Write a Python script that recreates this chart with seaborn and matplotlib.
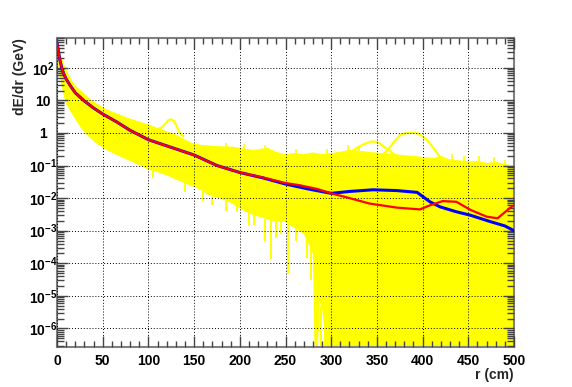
import numpy as np
import pandas as pd
import matplotlib
matplotlib.use("Agg")
import matplotlib.pyplot as plt
import seaborn as sns
from matplotlib.ticker import FixedLocator, FuncFormatter, NullFormatter, MultipleLocator

# ---------------- data ----------------
FLOOR = 1e-9  # empty bins (drawn below the log axis)

# mean profile (blue)
r_blue = [0, 1, 3, 6, 10, 15, 20, 30, 40, 50, 65, 80, 100, 125, 150, 175, 200, 225,
          250, 275, 300, 320, 346, 372, 394, 408, 419, 437, 452, 474, 490, 500]
e_blue = [570, 400, 180, 80, 45, 27, 17, 9.5, 5.8, 3.8, 2.2, 1.2, 0.62, 0.36, 0.21, 0.10,
          0.061, 0.042, 0.027, 0.019, 0.014, 0.016, 0.018, 0.017, 0.015, 0.0077, 0.0054,
          0.0038, 0.003, 0.0019, 0.0014, 0.001]

# second profile (red)
r_red = [0, 1, 3, 6, 10, 15, 20, 30, 40, 50, 65, 80, 100, 125, 150, 175, 200, 225,
         250, 265, 285, 300, 320, 342, 372, 397, 408, 422, 437, 452, 470, 482, 496, 500]
e_red = [570, 400, 180, 80, 45, 27, 17, 9.5, 5.8, 3.8, 2.2, 1.2, 0.62, 0.36, 0.21, 0.10,
         0.061, 0.043, 0.029, 0.025, 0.019, 0.014, 0.010, 0.0068, 0.0051, 0.0045, 0.006,
         0.0081, 0.0077, 0.0044, 0.0027, 0.0024, 0.0051, 0.006]

# envelope of the individual showers (yellow)
r_env = [0, 2, 5, 9, 15, 20, 27, 34, 42, 52, 60, 71, 80, 91, 100, 113, 124, 135, 146,
         156, 164, 178, 193, 205, 215, 225, 236, 245, 252, 260, 265, 270, 275, 280, 283,
         287, 292, 297, 301, 303, 305, 307, 309, 311, 313, 315, 317, 319, 321, 500]
e_low = [300, 100, 30, 9, 4.5, 2.7, 1.3, 0.8, 0.5, 0.33, 0.25, 0.18, 0.14, 0.1, 0.075,
         0.06, 0.045, 0.033, 0.024, 0.02, 0.013, 0.01, 0.0067, 0.004, 0.003, 0.0025,
         0.002, 0.002, 0.0018, 0.0012, 0.001, 0.0008, 0.0005, 0.0002, FLOOR,
         7e-6, 3e-6, 1e-6, FLOOR, 3e-5, FLOOR, 4e-5, FLOOR, 3e-5, FLOOR, 5e-5, FLOOR,
         2e-5, FLOOR, FLOOR]
r_up = [0, 2, 5, 10, 15, 20, 30, 40, 50, 60, 75, 90, 100, 110, 120, 130, 140, 150, 160,
        170, 180, 190, 200, 210, 220, 230, 240, 250, 260, 270, 280, 290, 300, 310, 320,
        330, 340, 350, 360, 370, 380, 390, 400, 410, 420, 430, 440, 450, 460, 470, 480,
        490, 500]
e_up = [800, 400, 200, 80, 45, 28, 15, 9, 6, 4.5, 3.0, 2.2, 1.8, 1.4, 1.1, 0.9, 0.6,
        0.45, 0.42, 0.4, 0.38, 0.38, 0.35, 0.3, 0.3, 0.36, 0.25, 0.22, 0.24, 0.22, 0.25,
        0.22, 0.24, 0.26, 0.3, 0.28, 0.25, 0.22, 0.2, 0.2, 0.18, 0.2, 0.17, 0.16, 0.2,
        0.15, 0.14, 0.13, 0.14, 0.12, 0.13, 0.11, 0.1]

# single showers sticking out of the band
r_bump1 = [355, 362, 369, 376, 383, 390, 396, 405, 410, 416, 423, 430]
e_bump1 = [0.2, 0.3, 0.55, 0.89, 1.0, 1.0, 0.95, 0.6, 0.4, 0.24, 0.12, 0.09]
r_bump2 = [310, 320, 328, 335, 341, 346, 352, 357, 364, 372]
e_bump2 = [0.2, 0.24, 0.35, 0.44, 0.52, 0.55, 0.5, 0.39, 0.28, 0.19]
r_bump3 = [110, 115, 119, 122, 125, 128, 131, 134, 138]
e_bump3 = [1.3, 1.5, 2.0, 2.5, 2.6, 2.3, 1.6, 1.0, 0.8]

# downward spikes (r, lowest value) below the band
spike_r = [105, 140, 160, 170, 185, 197, 210, 215, 228, 234, 240, 245, 253, 262, 273,
           278, 286, 289, 293, 296]
spike_v = [0.04, 0.015, 0.008, 0.006, 0.004, 0.0037, 0.0015, 0.0015, 5e-4, 1.4e-4,
           6e-4, 8e-4, 4.7e-5, 5e-4, 1.5e-4, 3e-5, 3e-6, FLOOR, FLOOR, 2e-6]
# upward spikes (r, highest value) above the band
upspike_r = [185, 205, 228, 262, 295, 318, 330, 432, 445, 462, 478, 490]
upspike_v = [0.5, 0.45, 0.42, 0.33, 0.33, 0.42, 0.4, 0.22, 0.2, 0.2, 0.18, 0.15]

x_ticks = [0, 50, 100, 150, 200, 250, 300, 350, 400, 450, 500]
y_decades = [1e-6, 1e-5, 1e-4, 1e-3, 1e-2, 1e-1, 1, 10, 1e2]

# ---------------- styling ----------------
sns.set_style("ticks")
plt.rcParams["font.family"] = ["Liberation Sans", "DejaVu Sans"]
plt.rcParams["font.weight"] = "bold"
plt.rcParams["mathtext.fontset"] = "custom"
plt.rcParams["mathtext.rm"] = "Liberation Sans:bold"
plt.rcParams["mathtext.bf"] = "Liberation Sans:bold"
plt.rcParams["mathtext.default"] = "bf"

fig = plt.figure(figsize=(5.72, 3.87), dpi=100)
ax = fig.add_axes([57 / 572, 1 - 347 / 387, (514 - 57) / 572, (347 - 38.3) / 387])

YEL = "#ffff00"
# band of individual showers
up_on_low = np.interp(r_env, r_up, e_up)
ax.fill_between(r_up, np.exp(np.interp(r_up, r_env, np.log(e_low))), e_up,
                color=YEL, lw=0, zorder=1)
ax.fill_between(r_env, e_low, np.maximum(up_on_low, e_low), color=YEL, lw=0, zorder=1)
low_at_sp = np.exp(np.interp(spike_r, r_env, np.log(e_low)))
ax.vlines(spike_r, spike_v, low_at_sp, color=YEL, lw=1.4, zorder=1)
up_at_sp = np.interp(upspike_r, r_up, e_up)
ax.vlines(upspike_r, up_at_sp, upspike_v, color=YEL, lw=1.2, zorder=1)

for rr, ee in [(r_bump1, e_bump1), (r_bump2, e_bump2), (r_bump3, e_bump3)]:
    sns.lineplot(x=rr, y=ee, ax=ax, color=YEL, lw=1.6, estimator=None, sort=False, zorder=2)

sns.lineplot(x=r_blue, y=e_blue, ax=ax, color="#0000ff", lw=2.2, estimator=None,
             sort=False, zorder=3)
sns.lineplot(x=r_red, y=e_red, ax=ax, color="#ff0000", lw=1.6, estimator=None,
             sort=False, zorder=4)

ax.set_yscale("log")
ax.set_xlim(0, 500)
ax.set_ylim(2.7e-7, 800)

ax.xaxis.set_major_locator(FixedLocator(x_ticks))
ax.xaxis.set_minor_locator(MultipleLocator(10))
ax.yaxis.set_major_locator(FixedLocator(y_decades))
minors = [m * d for d in [1e-7, 1e-6, 1e-5, 1e-4, 1e-3, 1e-2, 1e-1, 1, 10, 100]
          for m in range(2, 10)]
ax.yaxis.set_minor_locator(FixedLocator(minors))
ax.yaxis.set_minor_formatter(NullFormatter())


def yfmt(v, pos):
    n = int(round(np.log10(v)))
    if n == 0:
        return "1"
    if n == 1:
        return "10"
    return r"$\mathbf{10^{%d}}$" % n


ax.yaxis.set_major_formatter(FuncFormatter(yfmt))
ax.xaxis.set_major_formatter(FuncFormatter(lambda v, p: "%d" % v))

ax.tick_params(which="both", direction="in", top=True, right=True, colors="#444444",
               labelcolor="black", labelsize=10)
ax.tick_params(axis="x", which="major", length=8, width=1, pad=5)
ax.tick_params(axis="x", which="minor", length=4, width=1)
ax.tick_params(axis="y", which="major", length=8, width=1, pad=10)
ax.tick_params(axis="y", which="minor", length=5, width=1)
for lab in ax.get_yticklabels():
    lab.set_horizontalalignment("center")

for s in ax.spines.values():
    s.set_color("#808080")
    s.set_linewidth(1.5)

ax.grid(True, which="major", color="black", linestyle=(0, (1, 2)), lw=0.7)
ax.set_axisbelow(False)
for gl in ax.get_xgridlines() + ax.get_ygridlines():
    gl.set_zorder(5)

ax.set_xlabel("r (cm)", fontsize=10, fontweight="bold", loc="right")
ax.set_ylabel("dE/dr (GeV)", fontsize=10, fontweight="bold", loc="top")
ax.xaxis.set_label_coords(1.0, -0.068)
ax.yaxis.set_label_coords(-0.066, 1.0)

fig.savefig("out.png", dpi=100)
